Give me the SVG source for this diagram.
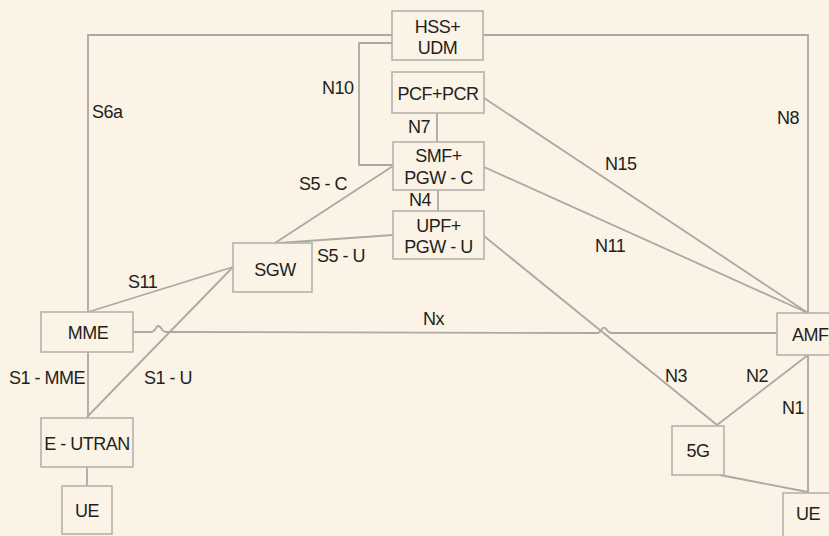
<svg xmlns="http://www.w3.org/2000/svg" width="829" height="536" viewBox="0 0 829 536">
<style>
.bg{fill:#FAF3E6}
.box{fill:#FAF3E6;stroke:#B4B2AE;stroke-width:1.6}
.ln{fill:none;stroke:#ABA9A5;stroke-width:1.8}
text{font-family:"Liberation Sans",Arial,sans-serif;font-size:18px;letter-spacing:-0.5px;fill:#231F20}
.c{text-anchor:middle}
</style>
<rect class="bg" x="0" y="0" width="829" height="536"/>
<g id="connectors">
<polyline class="ln" points="392,35 88,35 88,312"/>
<polyline class="ln" points="483,35 808,35 808,313"/>
<polyline class="ln" points="392,43 359,43 359,165 393,165"/>
<line class="ln" x1="437" y1="113" x2="437" y2="142"/>
<line class="ln" x1="438" y1="190" x2="438" y2="211"/>
<line class="ln" x1="275" y1="243" x2="393" y2="166"/>
<line class="ln" x1="279" y1="243" x2="393" y2="235"/>
<line class="ln" x1="484" y1="98" x2="808" y2="313"/>
<line class="ln" x1="484" y1="167" x2="808" y2="313"/>
<line class="ln" x1="484" y1="236" x2="717" y2="425"/>
<line class="ln" x1="88" y1="312" x2="233" y2="267"/>
<line class="ln" x1="87" y1="417" x2="233" y2="267"/>
<line class="ln" x1="88" y1="352" x2="88" y2="418"/>
<line class="ln" x1="87" y1="467" x2="87" y2="486"/>
<path class="ln" d="M133,332 L150,332 Q154,332 156,328 Q158,324 161,328 Q163,332 167,332 L597,333 Q600,333 602,329 Q604,326 607,330 Q609,333 612,333 L777,333"/>
<line class="ln" x1="808" y1="355" x2="717" y2="425"/>
<line class="ln" x1="808" y1="355" x2="808" y2="493"/>
<line class="ln" x1="720" y1="475" x2="808" y2="492"/>
</g>
<g id="labels">
<text x="92" y="118">S6a</text>
<text x="322" y="94">N10</text>
<text x="408" y="133">N7</text>
<text x="777" y="124">N8</text>
<text x="605" y="170">N15</text>
<text x="299" y="190">S5 - C</text>
<text x="409" y="206">N4</text>
<text x="317" y="262">S5 - U</text>
<text x="595" y="252">N11</text>
<text x="128" y="288">S11</text>
<text x="423" y="325">Nx</text>
<text x="9" y="384">S1 - MME</text>
<text x="144" y="384">S1 - U</text>
<text x="665" y="382">N3</text>
<text x="746" y="382">N2</text>
<text x="782" y="414">N1</text>
</g>
<g id="hss"><rect class="box" x="392" y="11" width="91" height="49"/><text class="c" x="437.5" y="33">HSS+</text><text class="c" x="437.5" y="54">UDM</text></g>
<g id="pcf"><rect class="box" x="392" y="72" width="92" height="41"/><text class="c" x="438" y="100">PCF+PCR</text></g>
<g id="smf"><rect class="box" x="393" y="142" width="91" height="48"/><text class="c" x="438.5" y="162">SMF+</text><text class="c" x="438.5" y="184">PGW - C</text></g>
<g id="upf"><rect class="box" x="393" y="211" width="91" height="48"/><text class="c" x="438.5" y="232">UPF+</text><text class="c" x="438.5" y="253">PGW - U</text></g>
<g id="sgw"><rect class="box" x="233" y="243" width="79" height="49"/><text class="c" x="275" y="276">SGW</text></g>
<g id="mme"><rect class="box" x="41" y="312" width="92" height="40"/><text class="c" x="88" y="339">MME</text></g>
<g id="eutran"><rect class="box" x="41" y="418" width="92" height="49"/><text class="c" x="87" y="450">E - UTRAN</text></g>
<g id="ue-left"><rect class="box" x="62" y="486" width="50" height="48"/><text class="c" x="87" y="517">UE</text></g>
<g id="amf"><rect class="box" x="777" y="313" width="70" height="42"/><text x="792" y="341">AMF</text></g>
<g id="g5"><rect class="box" x="672" y="426" width="52" height="49"/><text class="c" x="698" y="457">5G</text></g>
<g id="ue-right"><rect class="box" x="783" y="493" width="60" height="50"/><text x="796" y="520">UE</text></g>
</svg>
